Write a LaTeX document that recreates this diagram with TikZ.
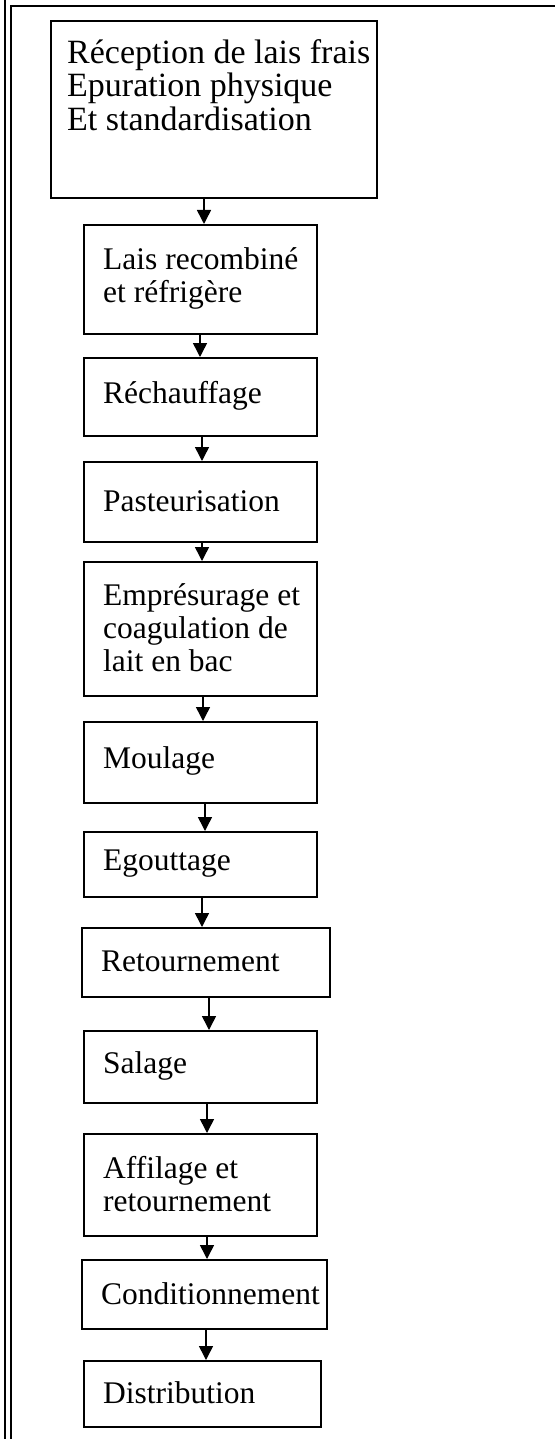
\documentclass[tikz,border=0pt]{standalone}
\usepackage{fontspec}
\setmainfont{Liberation Serif}
\usetikzlibrary{arrows.meta,calc}
\tikzset{
  frameline/.style={line width=1.6pt},
  box/.style={draw, line width=1.6pt, rectangle, inner sep=0pt, anchor=north west},
  lbl/.style={anchor=west, align=left, inner sep=0pt, font=\fontsize{31.5}{33}\selectfont},
  toplbl/.style={anchor=north west, align=left, inner sep=0pt, font=\fontsize{34}{33.5}\selectfont},
  arr/.style={line width=1.5pt, -{Triangle[length=14pt,width=14pt]}}
}
\newcommand{\stepbox}[6]{% name, x1, y1, x2, y2, text
  \node[box, minimum width={(#4-#2)*1pt}, minimum height={(#5-#3)*1pt}] (#1) at (#2,#3) {};
  \node[lbl] (#1t) at ($(#1.west)+(20,-1)$) {#6};
}
\begin{document}
\begin{tikzpicture}[x=1pt,y=-1pt]
\useasboundingbox (0,0) rectangle (555,1439);
% page frame
\coordinate (fa) at (5,0);
\coordinate (fb) at (5,1439);
\coordinate (fc) at (11,1439);
\coordinate (fd) at (11,6);
\coordinate (fe) at (555,6);
\draw[frameline] (fa) -- (fb);
\draw[frameline] (fc) -- (fd) -- (fe);

% first step, text set at the top of the box
\node[box, minimum width=326pt, minimum height=177pt] (b1) at (50,20) {};
\node[toplbl] (b1t) at (67,39) {Réception de lais frais\\Epuration physique\\Et standardisation};

\stepbox{b2}{83}{224}{316}{333}{Lais recombiné\\et réfrigère}
\stepbox{b3}{83}{357}{316}{435}{Réchauffage}
\stepbox{b4}{83}{461}{316}{541}{Pasteurisation}
\stepbox{b5}{83}{561}{316}{695}{Emprésurage et\\coagulation de\\lait en bac}
\stepbox{b6}{83}{721}{316}{802}{Moulage}
\stepbox{b7}{83}{831}{316}{896}{Egouttage}
\stepbox{b8}{81}{927}{329}{996}{Retournement}
\stepbox{b9}{83}{1030}{316}{1102}{Salage}
\stepbox{b10}{83}{1133}{316}{1235}{Affilage et\\retournement}
\stepbox{b11}{81}{1259}{326}{1328}{Conditionnement}
\stepbox{b12}{83}{1360}{320}{1426}{Distribution}

% connectors between consecutive steps
\foreach \a/\b/\dx in {b1/b2/154, b2/b3/117, b3/b4/119, b4/b5/119, b5/b6/120,
                       b6/b7/122, b7/b8/119, b8/b9/128, b9/b10/124, b10/b11/124, b11/b12/125}{
  \coordinate (s-\a) at ($(\a.south west)+(\dx,0)$);
  \coordinate (e-\a) at (s-\a |- \b.north);
  \draw[arr] (s-\a) -- (e-\a);
}
\end{tikzpicture}
\end{document}
